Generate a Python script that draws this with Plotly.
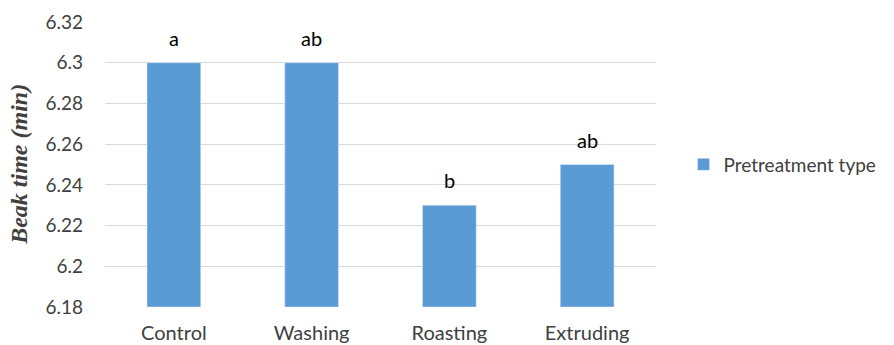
import plotly.graph_objects as go

categories = ["Control", "Washing", "Roasting", "Extruding"]
beak_time = [6.30, 6.30, 6.23, 6.25]
groups = ["a", "ab", "b", "ab"]
y_ticks = [6.18, 6.20, 6.22, 6.24, 6.26, 6.28, 6.30, 6.32]
y_tick_text = ["6.18", "6.2", "6.22", "6.24", "6.26", "6.28", "6.3", "6.32"]
axis_floor = 6.18

bar_color = "#5B9BD5"
text_color = "#404040"
font_family = "Lato, Open Sans, sans-serif"

fig = go.Figure()
fig.add_trace(go.Bar(
    x=categories,
    y=[v - axis_floor for v in beak_time],
    base=axis_floor,
    name="Pretreatment type",
    marker=dict(color=bar_color),
    width=0.39,
    showlegend=True,
))

# significance letters above each bar
for cat, v, g in zip(categories, beak_time, groups):
    fig.add_annotation(
        x=cat, y=v, text=g, showarrow=False,
        yanchor="bottom", yshift=11,
        font=dict(family=font_family, size=20, color="#000000"),
    )

# rotated y-axis title
fig.add_annotation(
    xref="paper", yref="paper", x=-87 / 553, y=0.5,
    xanchor="center", yanchor="middle", textangle=-90,
    text="<b><i>Beak time (min)</i></b>", showarrow=False,
    font=dict(family="Liberation Serif, Times New Roman, serif", size=24, color=text_color),
)

fig.update_layout(
    width=894, height=345,
    margin=dict(l=105, r=236, t=22, b=38),
    paper_bgcolor="white",
    plot_bgcolor="white",
    font=dict(family=font_family, size=19, color=text_color),
    legend=dict(
        x=1.05, y=0.5, xanchor="left", yanchor="middle",
        font=dict(family=font_family, size=19, color=text_color),
        itemwidth=30,
    ),
    xaxis=dict(
        showgrid=False, showline=False, ticks="", automargin=False,
        tickfont=dict(family=font_family, size=20, color=text_color),
        ticklabelstandoff=12,
    ),
    yaxis=dict(
        range=[6.18, 6.32], automargin=False,
        tickvals=y_ticks, ticktext=y_tick_text,
        showgrid=True, gridcolor="#D9D9D9", gridwidth=1,
        showline=False, zeroline=False, ticks="",
        tickfont=dict(family=font_family, size=19, color=text_color),
        ticklabelstandoff=21,
    ),
)

fig.write_html("out.html")
